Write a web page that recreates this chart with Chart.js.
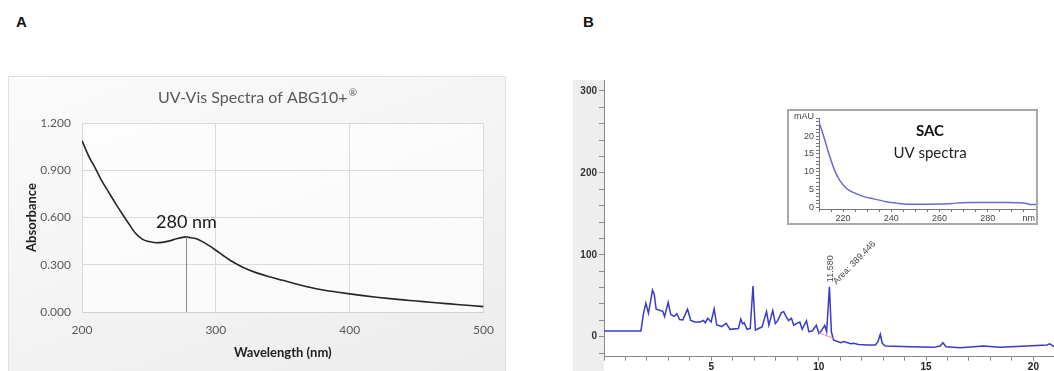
<!DOCTYPE html>
<html><head><meta charset="utf-8">
<script src="https://cdn.jsdelivr.net/npm/chart.js@4.4.1/dist/chart.umd.min.js"></script>
<style>
html,body{margin:0;padding:0;background:#fff;width:1054px;height:371px;overflow:hidden;position:relative}
.panel{position:absolute;font:bold 15px "Liberation Sans",Arial,sans-serif;color:#111;line-height:16px}
#frameA{position:absolute;left:8px;top:76px;width:496px;height:300px;border:1px solid #e0e0e0;background:linear-gradient(160deg,#fbfbfb 0%,#f3f3f3 55%,#ececec 100%)}
#cA{position:absolute;left:0;top:0}
#cB{position:absolute;left:560px;top:60px}
#insetBox{position:absolute;left:787px;top:109px;width:247px;height:112px;border:2px solid #a9a9a9;background:#fff}
#cI{position:absolute;left:0;top:0}
</style></head>
<body>
<div class="panel" style="left:16px;top:14px">A</div>
<div class="panel" style="left:583px;top:14px">B</div>
<div id="frameA"><canvas id="cA" width="496" height="294"></canvas></div>
<canvas id="cB" width="494" height="311"></canvas>
<div id="insetBox"><canvas id="cI" width="247" height="112"></canvas></div>
<script>
// ---------- Panel A: UV-Vis spectrum of ABG10+ ----------
const wavelengthA = [200,205,210,215,220,225,230,235,240,245,250,255,260,265,270,275,278,280,285,290,295,300,305,310,315,320,330,340,350,360,370,380,390,400,410,420,430,440,450,460,470,480,490,500];
const absorbanceA = [1.088,0.99,0.912,0.83,0.76,0.69,0.624,0.56,0.50,0.463,0.447,0.44,0.442,0.451,0.463,0.474,0.477,0.474,0.466,0.447,0.421,0.392,0.362,0.332,0.307,0.284,0.25,0.224,0.201,0.178,0.157,0.14,0.127,0.115,0.104,0.094,0.085,0.077,0.07,0.062,0.055,0.048,0.041,0.034];
const peakA = {x:278, y:0.477, label:'280 nm'};
const titleA = 'UV-Vis Spectra of ABG10+';
const xTitleA = 'Wavelength (nm)';
const yTitleA = 'Absorbance';

// ---------- Panel B: chromatogram ----------
const timeB = [0.0,1.72,1.84,1.95,2.07,2.26,2.34,2.43,2.62,2.74,2.82,2.99,3.11,3.27,3.39,3.52,3.67,3.89,4.04,4.24,4.48,4.63,4.72,4.83,4.99,5.13,5.25,5.41,5.48,5.69,5.87,6.26,6.37,6.45,6.53,6.66,6.81,6.94,7.05,7.2,7.36,7.57,7.68,7.86,7.98,8.09,8.26,8.37,8.48,8.6,8.73,8.84,8.95,9.12,9.23,9.43,9.54,9.7,9.89,10.01,10.13,10.28,10.37,10.5,10.59,10.69,11.03,11.16,11.5,11.63,11.86,12.25,12.64,12.76,12.87,12.96,13.1,14.27,15.35,15.66,15.79,15.93,16.6,17.68,18.45,19.7,20.63,20.76,20.96];
const signalB = [7,7,28.6,41,28.6,57,52,33.5,32,31,24.5,42,27,25,28,21,20.5,33.5,20,18,18,20,17,22.5,18,34,14.3,13,12.3,16.4,9,10,21.7,16,17,9,10,62,8,10,12,30.6,14,31.8,16,19.6,29.4,30.6,24.5,19.6,22.5,14,16,18,9,19.6,6.1,7,14,4,7.5,14,6,61,6,-4,-7.3,-6,-8.5,-8,-9.4,-10,-10,-6,3,-8,-11.4,-12.2,-13,-11.4,-7.3,-12.2,-13.5,-11.4,-13,-11.4,-10,-8.7,-12.2];
const baselineTime = [10.0,10.69];
const baselineSignal = [5,-2];
const peakB = {x:10.5, y:61, rt:'11.580', area:'Area: 389.446'};

// ---------- Inset: SAC UV spectrum ----------
const wavelengthI = [210,211.7,213.1,214.5,216.6,218.6,221.4,224.2,228.3,232.5,238,242.2,246.4,255,263.6,266.4,272.6,287.9,296.2,297.6,300];
const mAUI = [24,20.5,17.3,14.2,10.2,7.6,5.3,4.2,3.1,2.4,1.6,1.2,0.9,0.9,1.0,1.2,1.35,1.35,1.1,0.8,0.8];

const pts = (xs, ys) => xs.map((x, i) => ({x, y: ys[i]}));

// ===== Chart A =====
const plugA = {
  id: 'plugA',
  beforeDraw(c) {
    const {ctx, chartArea: a} = c;
    ctx.save();
    ctx.fillStyle = 'rgba(255,255,255,0.65)';
    ctx.fillRect(a.left, a.top, a.right - a.left, a.bottom - a.top);
    ctx.restore();
  },
  afterDatasetsDraw(c) {
    const {ctx, scales: {x, y}} = c;
    ctx.save();
    ctx.strokeStyle = '#8a8a8a'; ctx.lineWidth = 1;
    const px = Math.round(x.getPixelForValue(peakA.x)) + 0.5;
    ctx.beginPath(); ctx.moveTo(px, y.getPixelForValue(peakA.y)); ctx.lineTo(px, y.getPixelForValue(0)); ctx.stroke();
    ctx.fillStyle = '#1a1a1a'; ctx.font = '18px Lato'; ctx.textAlign = 'center'; ctx.textBaseline = 'middle';
    ctx.fillText(peakA.label, x.getPixelForValue(peakA.x), y.getPixelForValue(peakA.y) - 15);
    ctx.font = '16px Lato'; ctx.fillStyle = '#595959';
    const w1 = ctx.measureText(titleA).width;
    ctx.font = '10px Lato';
    const w2 = ctx.measureText('®').width;
    const cx = c.width / 2, total = w1 + w2;
    ctx.textAlign = 'left';
    ctx.font = '16px Lato';
    ctx.fillText(titleA, cx - total / 2, 21);
    ctx.font = '10px Lato';
    ctx.fillText('®', cx - total / 2 + w1 + 1, 16);
    ctx.restore();
  }
};
new Chart(document.getElementById('cA'), {
  type: 'line',
  data: {datasets: [{data: pts(wavelengthA, absorbanceA), borderColor: '#262626', borderWidth: 1.6, pointRadius: 0, cubicInterpolationMode: 'monotone', fill: false}]},
  options: {
    responsive: false, animation: false, devicePixelRatio: 1,
    layout: {padding: {left: 0, right: 21, top: 46, bottom: 0}},
    plugins: {legend: {display: false}, tooltip: {enabled: false}, title: {display: false}},
    scales: {
      x: {type: 'linear', min: 200, max: 500,
        afterFit: s => { s.height = 59; },
        ticks: {stepSize: 100, color: '#595959', font: {family: 'Lato', size: 12}, padding: 11, maxRotation: 0},
        grid: {color: '#dadada', drawTicks: false}, border: {color: '#d0d0d0'},
        title: {display: true, text: xTitleA, color: '#1f1f1f', font: {family: 'Lato', size: 13, weight: 'bold'}, padding: {top: 0, bottom: 10}}},
      y: {type: 'linear', min: 0, max: 1.2,
        afterFit: s => { s.width = 73; },
        ticks: {stepSize: 0.3, color: '#595959', font: {family: 'Lato', size: 12}, padding: 11, callback: v => v.toFixed(3)},
        grid: {color: '#dadada', drawTicks: false}, border: {color: '#dadada'},
        title: {display: true, text: yTitleA, color: '#1f1f1f', font: {family: 'Lato', size: 13, weight: 'bold'}, padding: {top: 15, bottom: 0}}}
    }
  },
  plugins: [plugA]
});

// ===== Chart B =====
const plugB = {
  id: 'plugB',
  beforeDraw(c) {
    const {ctx, chartArea: a} = c;
    ctx.save();
    ctx.fillStyle = '#eeeeee';
    ctx.fillRect(13, a.top, a.left - 13, c.height - a.top);
    ctx.restore();
  },
  afterDatasetsDraw(c) {
    const {ctx, scales: {x, y}} = c;
    const px = x.getPixelForValue(peakB.x), py = y.getPixelForValue(peakB.y);
    ctx.save();
    ctx.fillStyle = '#4a4a4a'; ctx.font = '9px "Liberation Sans"'; ctx.textAlign = 'center'; ctx.textBaseline = 'middle';
    ctx.translate(px + 1, py - 18); ctx.rotate(-Math.PI / 2); ctx.fillText(peakB.rt, 0, 0);
    ctx.restore();
    ctx.save();
    ctx.fillStyle = '#4a4a4a'; ctx.font = '9px "Liberation Sans"'; ctx.textAlign = 'center'; ctx.textBaseline = 'middle';
    ctx.translate(px + 25, py - 24); ctx.rotate(-46 * Math.PI / 180); ctx.fillText(peakB.area, 0, 0);
    ctx.restore();
  }
};
const intTicks = (step, lo, hi) => s => { s.ticks = []; for (let v = lo; v <= hi + 1e-9; v += step) s.ticks.push({value: +v.toFixed(6)}); };
new Chart(document.getElementById('cB'), {
  type: 'line',
  data: {datasets: [
    {data: pts(baselineTime, baselineSignal), borderColor: '#e884c2', borderWidth: 1, pointRadius: 0, fill: false},
    {data: pts(timeB, signalB), borderColor: '#3a3acb', borderWidth: 1.5, pointRadius: 0, tension: 0, fill: false}
  ]},
  options: {
    responsive: false, animation: false, devicePixelRatio: 1,
    layout: {padding: {left: 0, right: 0, top: 20, bottom: 0}},
    plugins: {legend: {display: false}, tooltip: {enabled: false}},
    scales: {
      x: {type: 'linear', min: 0, max: 20.96,
        afterFit: s => { s.height = 14.3; },
        afterBuildTicks: intTicks(1, 0, 20),
        ticks: {autoSkip: false, maxRotation: 0, color: '#222', font: {family: 'Liberation Sans', size: 10, weight: 'bold'}, padding: 1,
          callback: v => (v > 0 && v % 5 === 0) ? String(v) : ''},
        grid: {drawOnChartArea: false, drawTicks: true, tickLength: 4, color: '#8a8a8a'}, border: {color: '#8a8a8a'}},
      y: {type: 'linear', min: -24.4, max: 313.4,
        afterFit: s => { s.width = 44; },
        afterBuildTicks: intTicks(20, -20, 300),
        ticks: {autoSkip: false, color: '#333', font: {family: 'Liberation Sans', size: 10, weight: 'bold'}, padding: 2,
          callback: v => (v % 100 === 0) ? String(v) : ''},
        grid: {drawOnChartArea: false, drawTicks: true, tickLength: 5, color: '#8a8a8a'}, border: {color: '#8a8a8a'}}
    }
  },
  plugins: [plugB]
});

// ===== Inset =====
const plugI = {
  id: 'plugI',
  afterDraw(c) {
    const {ctx, chartArea: a} = c;
    ctx.save();
    ctx.fillStyle = '#444'; ctx.font = '9px "Liberation Sans"'; ctx.textBaseline = 'middle';
    ctx.textAlign = 'right';
    ctx.fillText('mAU', a.left - 5, 6);
    ctx.fillText('nm', c.width - 1, 108);
    ctx.fillStyle = '#111'; ctx.textAlign = 'center';
    ctx.font = 'bold 15px Lato'; ctx.fillText('SAC', 141, 20);
    ctx.font = '15px Lato'; ctx.fillStyle = '#222'; ctx.fillText('UV spectra', 141, 42);
    ctx.restore();
  }
};
new Chart(document.getElementById('cI'), {
  type: 'line',
  data: {datasets: [{data: pts(wavelengthI, mAUI), borderColor: '#6a6ad2', borderWidth: 1.5, pointRadius: 0, cubicInterpolationMode: 'monotone', fill: false}]},
  options: {
    responsive: false, animation: false, devicePixelRatio: 1,
    layout: {padding: {left: 0, right: 0, top: 2, bottom: 0}},
    plugins: {legend: {display: false}, tooltip: {enabled: false}},
    scales: {
      x: {type: 'linear', min: 210, max: 300,
        afterFit: s => { s.height = 14; },
        afterBuildTicks: intTicks(5, 210, 295),
        ticks: {autoSkip: false, maxRotation: 0, color: '#444', font: {family: 'Liberation Sans', size: 9}, padding: 1,
          callback: v => ([220,240,260,280].includes(v)) ? String(v) : ''},
        grid: {drawOnChartArea: false, drawTicks: true, tickLength: 3, color: '#777'}, border: {color: '#777'}},
      y: {type: 'linear', min: -0.45, max: 25,
        afterFit: s => { s.width = 30; },
        afterBuildTicks: intTicks(1, 0, 25),
        ticks: {autoSkip: false, color: '#444', font: {family: 'Liberation Sans', size: 9}, padding: 2,
          callback: v => (v % 5 === 0 && v < 25) ? String(v) : ''},
        grid: {drawOnChartArea: false, drawTicks: true, tickLength: 3, color: '#777'}, border: {color: '#777'}}
    }
  },
  plugins: [plugI]
});
</script>
</body></html>
